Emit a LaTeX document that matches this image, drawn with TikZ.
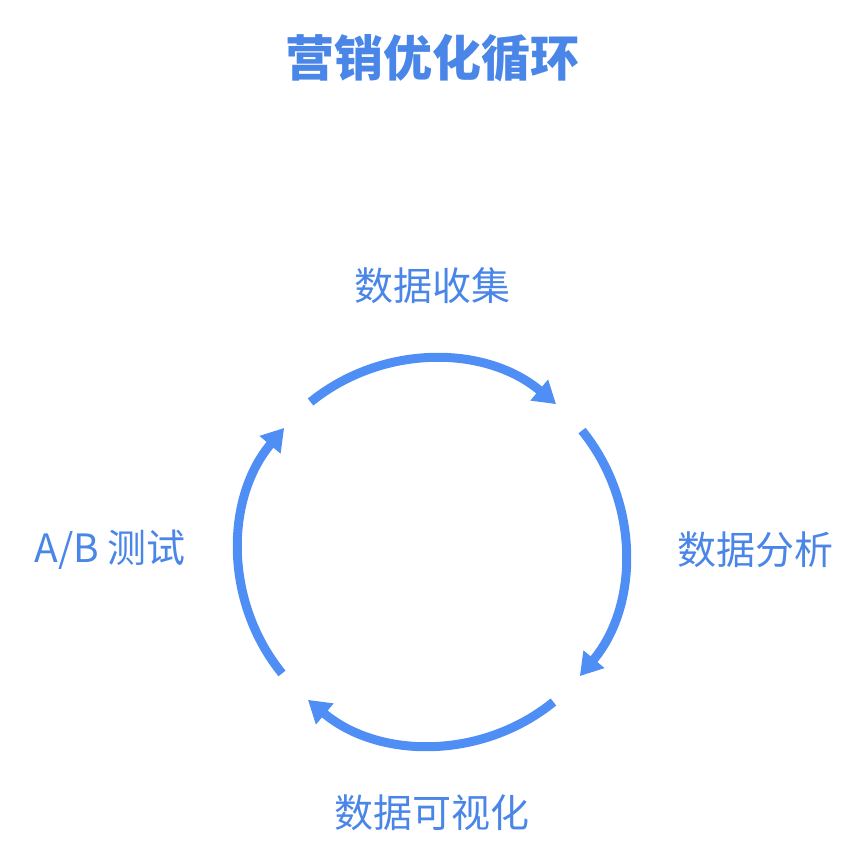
\documentclass[tikz,border=0pt]{standalone}
\usepackage{fontspec}
\setmainfont{Noto Sans CJK SC}
\usetikzlibrary{arrows.meta}
\definecolor{cblue}{HTML}{4F8EF5}
\definecolor{tblue}{HTML}{4A86E8}
\tikzset{arc/.style={draw=cblue,line width=9pt,-{Triangle[length=22pt,width=26pt]}},
lbl/.style={text=tblue,font=\fontsize{39}{44}\selectfont}}
\begin{document}
\begin{tikzpicture}[x=1pt,y=-1pt]
\useasboundingbox (0,0) rectangle (864,864);
\node[text=tblue,font=\fontsize{49}{54}\selectfont\bfseries] (t) at (432,58) {营销优化循环};
\coordinate (c) at (432,552);
\node[lbl] (n1) at (432,286) {数据收集};
\node[lbl] (n2) at (755,550) {数据分析};
\node[lbl] (n3) at (432,813) {数据可视化};
\node[lbl] (n4) at (110,550) {A/B 测试};
\begin{scope}[y=1pt]
\draw[arc] ([shift={(129:193pt)}]c) arc[start angle=129,end angle=50,radius=193pt];
\draw[arc] ([shift={(39:193pt)}]c) arc[start angle=39,end angle=-40,radius=193pt];
\draw[arc] ([shift={(-51:193pt)}]c) arc[start angle=-51,end angle=-130,radius=193pt];
\draw[arc] ([shift={(219:193pt)}]c) arc[start angle=219,end angle=140,radius=193pt];
\end{scope}
\end{tikzpicture}
\end{document}
